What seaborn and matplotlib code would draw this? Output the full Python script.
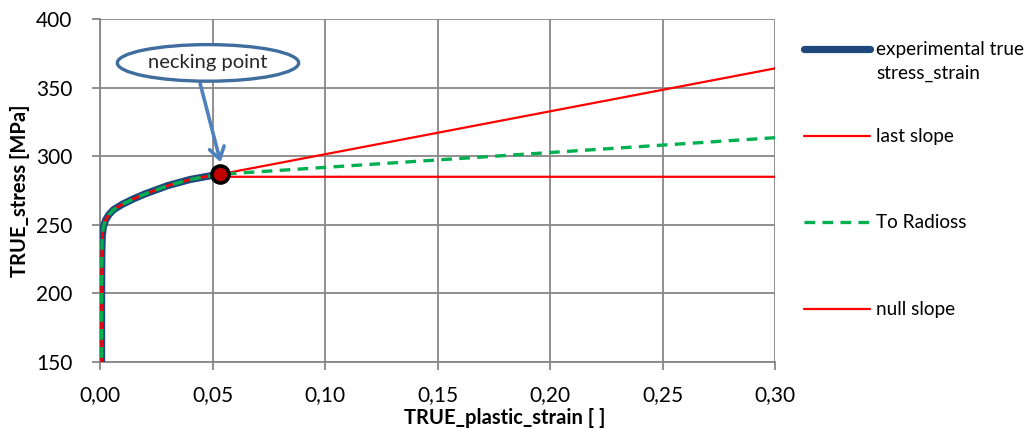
import matplotlib
matplotlib.use("Agg")
import matplotlib.pyplot as plt
from matplotlib.lines import Line2D
from matplotlib.ticker import FuncFormatter
import seaborn as sns

# Experimental true stress / true plastic strain curve up to necking
exp_strain = [0.0007, 0.0007, 0.0008, 0.0010, 0.0015, 0.0025, 0.004, 0.006, 0.010,
              0.015, 0.020, 0.030, 0.040, 0.050, 0.0533]
exp_stress = [140.0, 200.0, 230.0, 242.0, 248.5, 253.5, 257.5, 261.0, 265.0,
              269.0, 272.5, 278.5, 283.0, 286.0, 286.8]

# Necking point
neck_strain = [0.0533]
neck_stress = [286.8]

# Extrapolations beyond necking (to the end of the strain range)
last_slope_strain = exp_strain + [0.30]
last_slope_stress = exp_stress + [364.0]
radioss_strain = exp_strain + [0.30]
radioss_stress = exp_stress + [313.5]
null_slope_strain = exp_strain + [0.30]
null_slope_stress = exp_stress[:-1] + [285.0, 285.0]

x_ticks = [0.00, 0.05, 0.10, 0.15, 0.20, 0.25, 0.30]
y_ticks = [150, 200, 250, 300, 350, 400]

series_labels = ["experimental true\nstress_strain", "last slope", "To Radioss", "null slope"]

sns.set_theme(style="white")
plt.rcParams["font.family"] = ["Lato", "DejaVu Sans"]

BLUE = "#1F497D"
RED = "#FF0000"
GREEN = "#00B050"
GRID = "#878787"

fig = plt.figure(figsize=(10.29, 4.30), dpi=100)
ax = fig.add_axes([100 / 1029, 1 - 362 / 430, 675 / 1029, 343 / 430])

line_kw = dict(ax=ax, sort=False, estimator=None)
sns.lineplot(x=exp_strain, y=exp_stress, color=BLUE, linewidth=5.2,
             solid_capstyle="round", solid_joinstyle="round", zorder=3, **line_kw)
sns.lineplot(x=last_slope_strain, y=last_slope_stress, color=RED,
             linewidth=1.6, zorder=4, **line_kw)
sns.lineplot(x=null_slope_strain, y=null_slope_stress, color=RED,
             linewidth=1.6, zorder=4, **line_kw)
sns.lineplot(x=radioss_strain, y=radioss_stress, color=GREEN,
             linewidth=2.4, linestyle=(0, (3.2, 2.2)), zorder=5, **line_kw)
sns.scatterplot(x=neck_strain, y=neck_stress, ax=ax, s=150, color="#C00000",
                edgecolor="black", linewidth=2.6, zorder=6, clip_on=False)

ax.set_xlim(0.0, 0.30)
ax.set_ylim(150, 400)
ax.set_xticks(x_ticks)
ax.set_yticks(y_ticks)
ax.xaxis.set_major_formatter(FuncFormatter(lambda v, p: f"{v:.2f}".replace(".", ",")))
ax.yaxis.set_major_formatter(FuncFormatter(lambda v, p: f"{v:.0f}"))
ax.grid(True, color=GRID, linewidth=1.3)
ax.set_axisbelow(True)
for side in ["top", "right"]:
    ax.spines[side].set_visible(False)
for side in ["left", "bottom"]:
    ax.spines[side].set_color(GRID)
    ax.spines[side].set_linewidth(1.3)
ax.tick_params(axis="both", which="major", direction="out", length=5.5, width=1.3,
               color=GRID, labelsize=15, labelcolor="black")
ax.tick_params(axis="y", pad=14.5)
ax.tick_params(axis="x", pad=11)
ax.xaxis.set_ticks_position("bottom")
ax.yaxis.set_ticks_position("left")

ax.set_xlabel("TRUE_plastic_strain [ ]", fontsize=14.5, fontweight="bold", color="black")
ax.set_ylabel("TRUE_stress [MPa]", fontsize=14.5, fontweight="bold", color="black")
ax.xaxis.set_label_coords(0.60, -0.135)
ax.yaxis.set_label_coords(-0.104, 0.5)

# Callout for the necking point
ax.text(0.048, 368, "necking point", fontsize=14.5, ha="center", va="center", zorder=8,
        bbox=dict(boxstyle="ellipse,pad=0.22", facecolor="white",
                  edgecolor="#3F6D9E", linewidth=2.4))
ax.annotate("", xy=(0.0536, 295.5), xytext=(0.0445, 353.0),
            arrowprops=dict(arrowstyle="->,head_length=0.7,head_width=0.45",
                            color="#4F81BD", linewidth=2.6, shrinkA=0, shrinkB=0),
            zorder=7)

# Legend drawn beside the plot area
legend_y = [49, 136, 222, 309]
legend_styles = [
    dict(color=BLUE, linewidth=5.2, solid_capstyle="round"),
    dict(color=RED, linewidth=1.6),
    dict(color=GREEN, linewidth=2.4, linestyle=(0, (3.2, 2.2))),
    dict(color=RED, linewidth=1.6),
]
for ypx, style, label in zip(legend_y, legend_styles, series_labels):
    yf = 1 - ypx / 430
    fig.add_artist(Line2D([804 / 1029, 870 / 1029], [yf, yf], transform=fig.transFigure, **style))
    top = 1 - (ypx - 8) / 430
    fig.text(876 / 1029, top, label, fontsize=13.7, ha="left", va="top",
             linespacing=1.45, color="black")

fig.savefig("out.png", dpi=100, facecolor="white")
